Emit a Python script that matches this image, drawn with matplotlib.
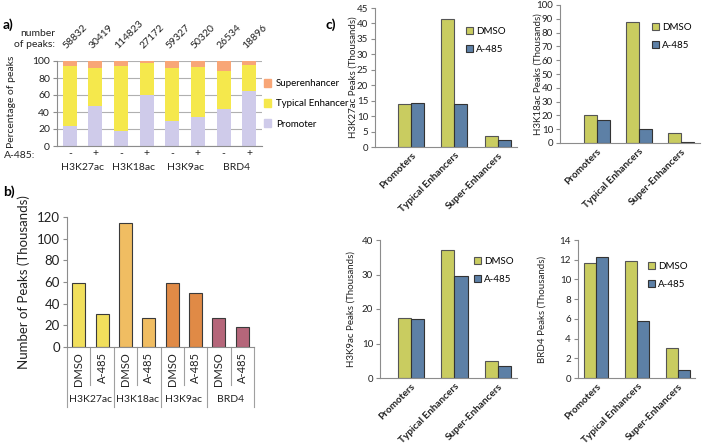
import matplotlib
matplotlib.use('Agg')
from matplotlib import pyplot as plt
from matplotlib.patches import Patch

plt.rcParams['font.family'] = ['Lato', 'DejaVu Sans']

W, H = 702, 447

# Panel a: percentage of peaks per sample
aMarks = ['H3K27ac', 'H3K18ac', 'H3K9ac', 'BRD4']
aTreat = ['-', '+'] * 4
aPeakCounts = ['58832', '30419', '114823', '27172', '59327', '50320', '26534', '18896']
aPromoter = [23.5, 46.5, 17.9, 60.0, 29.5, 34.2, 44.0, 65.0]
aTypical = [70.6, 45.5, 76.2, 38.0, 62.4, 59.0, 44.7, 30.5]
aSuper = [5.9, 8.0, 5.9, 2.0, 8.1, 6.8, 11.3, 4.5]

# Panel b: number of peaks (thousands)
bTreat = ['DMSO', 'A-485'] * 4
bPeaks = [58.8, 30.4, 114.8, 27.2, 59.3, 50.3, 26.5, 18.9]

# Panel c: peaks per region class (thousands)
regions = ['Promoters', 'Typical Enhancers', 'Super-Enhancers']
cDmso = {
  'H3K27ac': [13.8, 41.5, 3.6],
  'H3K18ac': [20.6, 87.6, 6.9],
  'H3K9ac': [17.5, 37.0, 4.8],
  'BRD4': [11.7, 11.9, 3.0],
}
cA485 = {
  'H3K27ac': [14.1, 13.8, 2.4],
  'H3K18ac': [16.4, 10.3, 0.6],
  'H3K9ac': [17.2, 29.7, 3.4],
  'BRD4': [12.3, 5.75, 0.85],
}

colPromoter = '#cfcbea'
colTypical = '#f5e84c'
colSuper = '#f8a677'
bColors = ['#f1df5c', '#f1df5c', '#f0bd62', '#f0bd62',
           '#e08a46', '#e08a46', '#b5667a', '#b5667a']
colDmso = '#c9cc60'
colA485 = '#5d80a6'
spineCol = '#8c8c8c'
txtCol = '#222222'


def pxAxes(fig, l, t, r, b):
  return fig.add_axes([l / W, 1 - b / H, (r - l) / W, (b - t) / H])


def styleAxes(ax, fs):
  for s in ['top', 'right']:
    ax.spines[s].set_visible(False)
  for s in ['left', 'bottom']:
    ax.spines[s].set_color(spineCol)
    ax.spines[s].set_linewidth(0.8)
  ax.tick_params(axis='y', colors=spineCol, labelcolor=txtCol,
                 labelsize=fs, length=3, width=0.8, pad=2)
  ax.tick_params(axis='x', length=0)


fig = plt.figure(figsize=(W / 100, H / 100), dpi=100)

# ---- Panel a ----
axA = pxAxes(fig, 57, 61, 262, 146)
x = list(range(len(aPromoter)))
bw = 0.55
axA.bar(x, aPromoter, bw, color=colPromoter, zorder=2)
axA.bar(x, aTypical, bw, bottom=aPromoter, color=colTypical, zorder=2)
bot = [p + t for p, t in zip(aPromoter, aTypical)]
axA.bar(x, aSuper, bw, bottom=bot, color=colSuper, zorder=2)
axA.set_xlim(-0.5, 7.5)
axA.set_ylim(0, 100)
axA.set_yticks(range(0, 101, 20))
axA.grid(axis='y', color='#b0b0b0', lw=0.8, zorder=0)
styleAxes(axA, 7.5)
axA.set_xticks(x)
axA.set_xticklabels([])
axA.set_ylabel('Percentage of peaks', fontsize=7.5, color=txtCol)
axA.yaxis.set_label_coords(-0.2, 0.52)
for i, n in enumerate(aPeakCounts):
  axA.text(i - 0.12, 114, n, rotation=45, rotation_mode='anchor',
           ha='left', va='baseline', fontsize=7.5, color=txtCol)
for i, t in enumerate(aTreat):
  axA.text(i, -9, t, ha='center', va='center', fontsize=7.5, color=txtCol)
for g, name in enumerate(aMarks):
  axA.text(2 * g + 0.5, -25, name, ha='center', va='center', fontsize=7.5,
           color=txtCol)
fig.text(4 / W, 1 - 155 / H, 'A-485:', ha='left', va='center', fontsize=7.5,
         color=txtCol)
fig.text(55 / W, 1 - 39 / H, 'number\nof peaks:', ha='right', va='center',
         fontsize=7.5, linespacing=1.35, color=txtCol)
aHandles = [Patch(color=colSuper), Patch(color=colTypical), Patch(color=colPromoter)]
axA.legend(aHandles, ['Superenhancer', 'Typical Enhancer', 'Promoter'],
           loc='upper left', bbox_to_anchor=(264 / W, 1 - 79 / H),
           bbox_transform=fig.transFigure, frameon=False, fontsize=7,
           handlelength=0.7, handleheight=0.9, handletextpad=0.5,
           labelspacing=1.1, borderpad=0, borderaxespad=0)

# ---- Panel b ----
axB = pxAxes(fig, 67, 217, 254, 347)
xb = list(range(len(bPeaks)))
axB.bar(xb, bPeaks, 0.56, color=bColors, edgecolor='#3a3a3a', lw=0.8, zorder=2)
axB.set_xlim(-0.5, 7.5)
axB.set_ylim(0, 120)
axB.set_yticks(range(0, 121, 20))
styleAxes(axB, 9.5)
axB.set_xticks([])
axB.set_ylabel('Number of Peaks (Thousands)', fontsize=9.5, labelpad=5,
               color=txtCol)
tr = axB.get_xaxis_transform()
hB = 130.0
for i, t in enumerate(bTreat):
  axB.text(i, -5 / hB, t, transform=tr, rotation=90, ha='center', va='top',
           fontsize=8, color=txtCol)
for g, name in enumerate(aMarks):
  axB.text(2 * g + 0.5, -52 / hB, name, transform=tr, ha='center',
           va='center', fontsize=7.5, color=txtCol)
for xv in [-0.5, 1.5, 3.5, 5.5, 7.5]:
  axB.plot([xv, xv], [0, -60 / hB], transform=tr, color='#a0a0a0', lw=0.8,
           clip_on=False)
for xv in [0.5, 2.5, 4.5, 6.5]:
  axB.plot([xv, xv], [0, -38 / hB], transform=tr, color='#a0a0a0', lw=0.8,
           clip_on=False)

# ---- Panel c ----
cPanels = [
  ('H3K27ac', (375, 8, 517, 147), (-0.83, 2.44), 45, 5, -0.125, (466, 27)),
  ('H3K18ac', (560, 5, 700, 143), (-0.88, 2.45), 100, 10, -0.125, (652, 23)),
  ('H3K9ac', (380, 240, 517, 378), (-0.70, 2.43), 40, 10, -0.175, (474, 257)),
  ('BRD4', (578, 240, 695, 378), (-0.44, 2.41), 14, 2, -0.27, (648, 262)),
]
cw = 0.3
for mark, box, xlim, ymax, step, labx, legPos in cPanels:
  ax = pxAxes(fig, *box)
  xc = list(range(len(regions)))
  ax.bar([v - cw / 2 for v in xc], cDmso[mark], cw, color=colDmso,
         edgecolor='#555555', lw=0.8, label='DMSO', zorder=2)
  ax.bar([v + cw / 2 for v in xc], cA485[mark], cw, color=colA485,
         edgecolor='#333333', lw=0.8, label='A-485', zorder=2)
  ax.set_xlim(*xlim)
  ax.set_ylim(0, ymax)
  ax.set_yticks(range(0, ymax + 1, step))
  styleAxes(ax, 7)
  ax.set_xticks(xc)
  ax.set_xticklabels(regions, rotation=45, ha='right', rotation_mode='anchor',
                     fontsize=7.2, fontweight='bold', color=txtCol)
  ax.tick_params(axis='x', pad=3)
  ax.set_ylabel(mark + ' Peaks (Thousands)', fontsize=7, color=txtCol)
  ax.yaxis.set_label_coords(labx, 0.5)
  ax.legend(loc='upper left', bbox_to_anchor=(legPos[0] / W, 1 - legPos[1] / H),
            bbox_transform=fig.transFigure, frameon=False, fontsize=7,
            handlelength=0.7, handleheight=0.8, handletextpad=0.3,
            labelspacing=0.9, borderpad=0, borderaxespad=0)

# Panel letters
fig.text(3 / W, 1 - 25 / H, 'a)', fontsize=10, fontweight='bold', va='center')
fig.text(3 / W, 1 - 192 / H, 'b)', fontsize=10, fontweight='bold', va='center')
fig.text(325 / W, 1 - 25 / H, 'c)', fontsize=10, fontweight='bold', va='center')

fig.savefig('out.png', dpi=100)
